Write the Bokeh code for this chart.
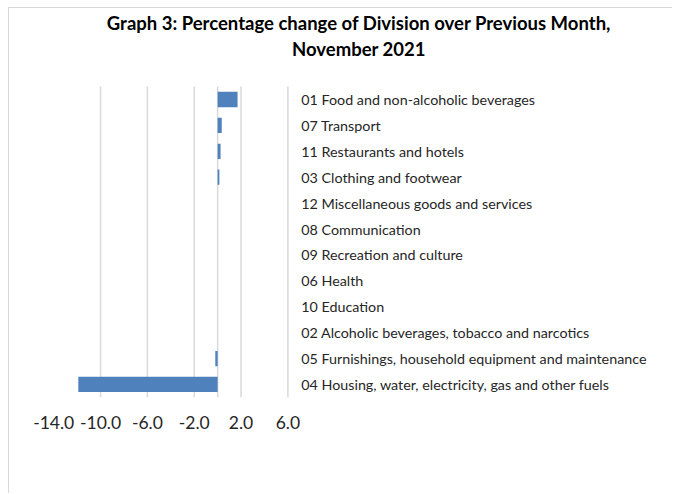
from bokeh.plotting import figure
from bokeh.models import Range1d, ColumnDataSource
from bokeh.core.properties import value
from bokeh.embed import file_html
from bokeh.resources import INLINE

categories = [
    "01 Food and non-alcoholic beverages",
    "07 Transport",
    "11 Restaurants and hotels",
    "03 Clothing and footwear",
    "12 Miscellaneous goods and services",
    "08 Communication",
    "09 Recreation and culture",
    "06 Health",
    "10 Education",
    "02 Alcoholic beverages, tobacco and narcotics",
    "05 Furnishings, household equipment and maintenance",
    "04 Housing, water, electricity, gas and other fuels",
]
values = [1.7, 0.35, 0.25, 0.15, 0.0, 0.0, 0.0, 0.0, 0.0, 0.0, -0.2, -11.9]
tick_values = [-14.0, -10.0, -6.0, -2.0, 2.0, 6.0]
title_lines = ["Graph 3: Percentage change of Division over Previous Month,", "November 2021"]

FONT = "Lato"
n = len(categories)
rows = list(range(n))

# layout constants (data space of the frame which spans the whole chart)
X_START, X_END = -17.775, 38.93
Y_BOTTOM, Y_TOP = 15.25, -3.514
AXIS_MAX = 6.2
TITLE_X = 12.07

p = figure(
    width=664, height=486,
    x_range=Range1d(X_START, X_END),
    y_range=Range1d(Y_BOTTOM, Y_TOP),
    x_axis_location=None, y_axis_location=None,
    output_backend="svg", toolbar_location=None,
    min_border=0,
)
p.styles = {
    "margin-left": "8px", "margin-top": "7px",
    "border-top": "1px solid #d9d9d9", "border-left": "1px solid #d9d9d9",
}
p.outline_line_color = None
p.grid.visible = False
p.background_fill_color = "white"
p.border_fill_color = "white"

# gridlines
grid_x = [t for t in tick_values if t > tick_values[0]]
p.segment(x0=grid_x, x1=grid_x, y0=[-0.5] * len(grid_x), y1=[n - 0.5] * len(grid_x),
          line_color="#d9d9d9", line_width=1.5)
# zero (vertical axis) line
p.segment(x0=[0], x1=[0], y0=[-0.5], y1=[n - 0.5], line_color="#d9d9d9", line_width=1.5)

# bars
src = ColumnDataSource(dict(y=rows, v=values, cat=categories))
p.hbar(y="y", right="v", left=0, height=0.59, source=src, fill_color="#4F81BD", line_color=None)

# category labels
p.text(x=[AXIS_MAX] * n, y=rows, text=categories, x_offset=11,
       text_font=value(FONT), text_font_size="14.3px", text_color="#262626",
       text_align="left", text_baseline="middle")

# x tick labels
p.text(x=tick_values, y=[n - 0.5] * len(tick_values), text=[f"{t:.1f}" for t in tick_values],
       y_offset=25, text_font=value(FONT), text_font_size="17.5px", text_color="#262626",
       text_align="center", text_baseline="middle")

# title
p.text(x=[TITLE_X] * 2, y=[-0.5, -0.5], text=title_lines, y_offset=[-64, -38],
       text_font=value(FONT), text_font_style="bold", text_font_size="18.5px",
       text_color="#000000", text_align="center", text_baseline="middle")

open("out.html", "w").write(file_html(p, INLINE))
